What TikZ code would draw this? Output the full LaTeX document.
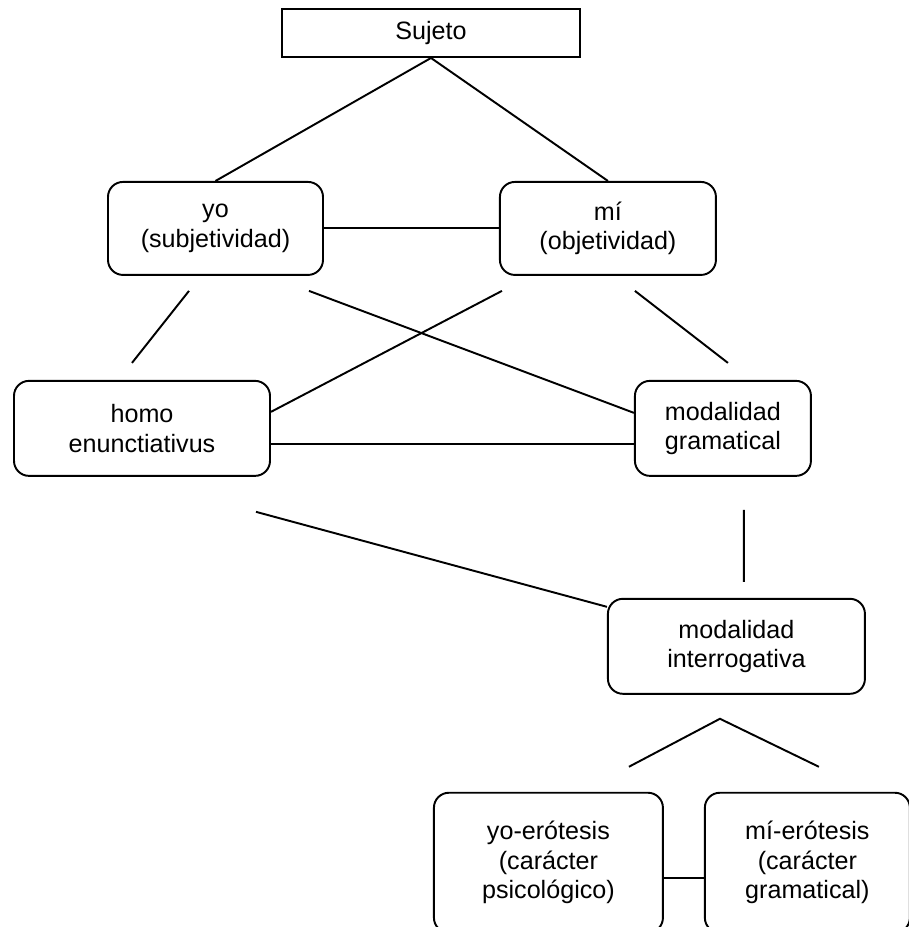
\documentclass[tikz,border=0pt]{standalone}
\usepackage{fontspec}
\setmainfont{Liberation Sans}
\usepackage{tikz}
\usetikzlibrary{positioning, calc}
\tikzstyle{line} = [line width=1.1pt]
\tikzstyle{basic} = [rectangle, draw=black, line width=1.1pt, align=center, fill=white, text=black, font=\fontsize{14.3}{16.8}\selectfont]
\tikzstyle{roundbox} = [basic, rounded corners=3mm, minimum height=19mm]

\begin{document}
\begin{tikzpicture}[node distance=0mm]
\useasboundingbox (-86.2mm,6.6mm) rectangle (95.4mm,-178.8mm);

\node (sujeto) [basic, minimum width=59.6mm, minimum height=9.6mm] {Sujeto};
\node (yo) [roundbox, minimum width=43mm, minimum height=18.6mm, anchor=north, xshift=-43.1mm, yshift=-24.6mm] at(sujeto.south) {yo\\(subjetividad)};
\node (mi) [roundbox, minimum width=43.2mm, minimum height=18.6mm, anchor=west, xshift=35mm] at(yo.east) {mí\\(objetividad)};

\node (homo) [roundbox, minimum width=51.2mm, anchor=north, xshift=-14.7mm, yshift=-20.8mm] at(yo.south) {homo\\enunctiativus};
\node (modgram) [roundbox, minimum width=35.2mm, anchor=west, xshift=72.6mm] at(homo.east) {modalidad\\gramatical};

\node (modint) [roundbox, minimum width=51.4mm, anchor=north, xshift=2.7mm, yshift=-24.2mm] at(modgram.south) {modalidad\\interrogativa};

\node (yoero) [roundbox, minimum width=45.8mm, minimum height=28mm, anchor=north, xshift=-37.6mm, yshift=-19.4mm] at(modint.south) {yo-erótesis\\(carácter\\psicológico)};
\node (miero) [roundbox, minimum width=41mm, minimum height=28mm, anchor=west, xshift=8mm] at(yoero.east) {mí-erótesis\\(carácter\\gramatical)};

\draw [line] (sujeto.south) -- (yo.north);
\draw [line] (sujeto.south) -- (mi.north);
\draw [line] (yo.east) -- (mi.west);

\draw [line] ($(yo.south) + (-5.3mm, -3mm)$) -- ($(homo.north) + (-2mm, 3.4mm)$);
\draw [line] ($(yo.south) + (18.7mm, -3mm)$) -- ($(modgram.west) + (0mm, 3.1mm)$);
\draw [line] ($(mi.south) + (-21.2mm, -3mm)$) -- ($(homo.east) + (0mm, 3.3mm)$);
\draw [line] ($(mi.south) + (5.4mm, -3mm)$) -- ($(modgram.north) + (1mm, 3.4mm)$);
\draw [line] ($(homo.east) + (0mm, -3.1mm)$) -- ($(modgram.west) + (0mm, -3.1mm)$);

\draw [line] ($(homo.south) + (22.8mm, -7mm)$) -- ($(modint.north west) + (0mm, -1.8mm)$);
\draw [line] ($(modgram.south) + (4.2mm, -6.6mm)$) -- ($(modint.north) + (1.5mm, 3.2mm)$);

\draw [line] ($(yoero.north) + (16.1mm, 5mm)$) -- ($(modint.south) + (-3.3mm, -4.8mm)$) -- ($(miero.north) + (2.3mm, 5mm)$);
\draw [line] ($(yoero.east) + (0mm, -3mm)$) -- ($(miero.west) + (0mm, -3mm)$);

\end{tikzpicture}
\end{document}
